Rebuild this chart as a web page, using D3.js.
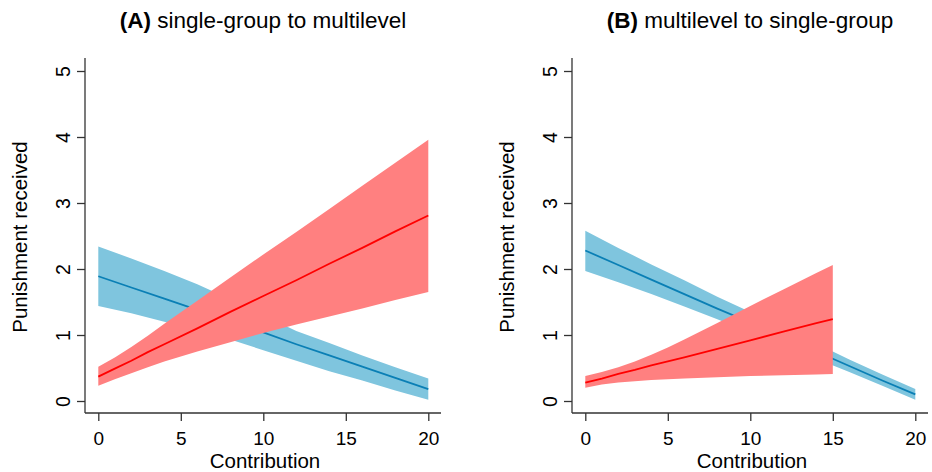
<!DOCTYPE html>
<html>
<head>
<meta charset="utf-8">
<script src="https://cdn.jsdelivr.net/npm/d3@7"></script>
<style>
  body { margin: 0; background: #fff; }
  svg { display: block; font-family: "Liberation Sans", Arial, sans-serif; }
</style>
</head>
<body>
<svg id="chart" width="932" height="472"></svg>
<script>
// ---- data ----
const xTicks = [0, 5, 10, 15, 20];
const yTicks = [0, 1, 2, 3, 4, 5];
const panelTags = ['(A)', '(B)'];
const panelNames = [' single-group to multilevel', ' multilevel to single-group'];
const xTitle = 'Contribution';
const yTitle = 'Punishment received';

// panel A, blue series
const aBlueX = [0, 2, 4, 6, 8, 10, 12, 14, 16, 18, 20];
const aBlueFit = [1.89, 1.72, 1.55, 1.38, 1.21, 1.04, 0.86, 0.69, 0.52, 0.35, 0.18];
const aBlueLo = [1.44, 1.33, 1.20, 1.06, 0.93, 0.77, 0.61, 0.45, 0.31, 0.16, 0.02];
const aBlueHi = [2.34, 2.16, 1.97, 1.77, 1.54, 1.30, 1.06, 0.88, 0.69, 0.51, 0.34];

// panel A, red series
const aRedX = [0, 1, 2, 3, 4, 6, 8, 10, 12, 14, 16, 18, 20];
const aRedFit = [0.37, 0.49, 0.61, 0.74, 0.86, 1.10, 1.35, 1.59, 1.83, 2.08, 2.32, 2.57, 2.81];
const aRedLo = [0.23, 0.33, 0.42, 0.51, 0.60, 0.75, 0.89, 1.03, 1.16, 1.28, 1.40, 1.53, 1.65];
const aRedHi = [0.52, 0.66, 0.82, 0.99, 1.17, 1.52, 1.87, 2.22, 2.56, 2.91, 3.26, 3.61, 3.96];

// panel B, blue series
const bBlueX = [0, 2, 4, 6, 8, 10, 12, 14, 16, 18, 20];
const bBlueFit = [2.28, 2.06, 1.84, 1.62, 1.40, 1.19, 0.97, 0.75, 0.53, 0.31, 0.10];
const bBlueLo = [1.97, 1.80, 1.62, 1.43, 1.24, 1.04, 0.84, 0.64, 0.44, 0.23, 0.02];
const bBlueHi = [2.58, 2.32, 2.07, 1.83, 1.58, 1.35, 1.10, 0.87, 0.63, 0.40, 0.18];

// panel B, red series
const bRedX = [0, 1, 2, 3, 4, 5, 6, 8, 10, 12, 14, 15];
const bRedFit = [0.28, 0.34, 0.41, 0.47, 0.54, 0.60, 0.66, 0.79, 0.92, 1.05, 1.18, 1.24];
const bRedLo = [0.20, 0.25, 0.28, 0.30, 0.32, 0.33, 0.34, 0.36, 0.38, 0.39, 0.40, 0.41];
const bRedHi = [0.38, 0.44, 0.51, 0.60, 0.70, 0.81, 0.93, 1.18, 1.44, 1.69, 1.94, 2.06];

const BLUE_BAND = '#7fc5de';
const BLUE_LINE = '#0a7fb5';
const RED_BAND = '#ff8080';
const RED_LINE = '#ff0000';

function series(xs, fit, lo, hi) {
    return xs.map((x, i) => ({ x, fit: fit[i], lo: lo[i], hi: hi[i] }));
}

const panels = [
    { offset: 0, blue: series(aBlueX, aBlueFit, aBlueLo, aBlueHi), red: series(aRedX, aRedFit, aRedLo, aRedHi) },
    { offset: 487, blue: series(bBlueX, bBlueFit, bBlueLo, bBlueHi), red: series(bRedX, bRedFit, bRedLo, bRedHi) }
];

const svg = d3.select('#chart');

// plot geometry (per panel, before offset)
const axisX = 85, axisTop = 58, axisY = 413, axisRight = 441;
const x = d3.scaleLinear().domain([0, 20]).range([98.3, 428.3]);
const y = d3.scaleLinear().domain([0, 5]).range([401, 71]);

const area = d3.area().x(d => x(d.x)).y0(d => y(d.lo)).y1(d => y(d.hi));
const line = d3.line().x(d => x(d.x)).y(d => y(d.fit));

panels.forEach((p, i) => {
    const g = svg.append('g').attr('transform', `translate(${p.offset},0)`);

    // bands and fitted lines: blue first, red drawn on top
    g.append('path').datum(p.blue).attr('d', area).attr('fill', BLUE_BAND);
    g.append('path').datum(p.blue).attr('d', line)
        .attr('fill', 'none').attr('stroke', BLUE_LINE).attr('stroke-width', 1.8);
    g.append('path').datum(p.red).attr('d', area).attr('fill', RED_BAND);
    g.append('path').datum(p.red).attr('d', line)
        .attr('fill', 'none').attr('stroke', RED_LINE).attr('stroke-width', 1.8);

    // x axis
    const gx = g.append('g').attr('transform', `translate(0,${axisY})`)
        .call(d3.axisBottom(x).tickValues(xTicks).tickFormat(d3.format('d')).tickSize(8).tickSizeOuter(0));
    gx.select('.domain').remove();
    gx.selectAll('.tick line').attr('stroke', '#333').attr('stroke-width', 1.3);
    gx.selectAll('.tick text').attr('y', 32).attr('dy', 0)
        .attr('font-size', 19).attr('font-family', null).attr('fill', '#000');
    g.append('line').attr('x1', axisX).attr('x2', axisRight).attr('y1', axisY).attr('y2', axisY)
        .attr('stroke', '#333').attr('stroke-width', 1.3);

    // y axis with rotated labels
    const gy = g.append('g').attr('transform', `translate(${axisX},0)`)
        .call(d3.axisLeft(y).tickValues(yTicks).tickFormat(d3.format('d')).tickSize(8).tickSizeOuter(0));
    gy.select('.domain').remove();
    gy.selectAll('.tick line').attr('stroke', '#333').attr('stroke-width', 1.3);
    gy.selectAll('.tick text')
        .attr('transform', 'rotate(-90)')
        .attr('x', 0).attr('y', -15).attr('dy', 0)
        .attr('text-anchor', 'middle')
        .attr('font-size', 19.5).attr('font-family', null).attr('fill', '#000');
    g.append('line').attr('x1', axisX).attr('x2', axisX).attr('y1', axisTop).attr('y2', axisY)
        .attr('stroke', '#333').attr('stroke-width', 1.3);

    // axis titles
    g.append('text')
        .attr('x', (axisX + axisRight) / 2 + 2).attr('y', 468)
        .attr('text-anchor', 'middle').attr('font-size', 20.5)
        .text(xTitle);
    g.append('text')
        .attr('transform', 'translate(27, 237) rotate(-90)')
        .attr('text-anchor', 'middle').attr('font-size', 20.5)
        .text(yTitle);

    // panel title
    const t = g.append('text')
        .attr('x', (axisX + axisRight) / 2).attr('y', 28)
        .attr('text-anchor', 'middle').attr('font-size', 22.5);
    t.append('tspan').attr('font-weight', 'bold').text(panelTags[i]);
    t.append('tspan').text(panelNames[i]);
});
</script>
</body>
</html>
